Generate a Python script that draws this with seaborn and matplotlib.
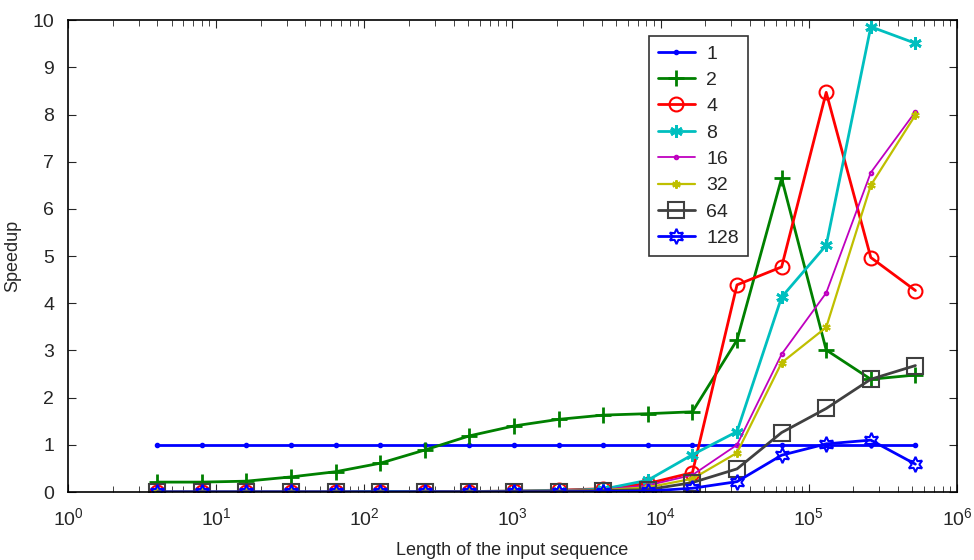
import numpy as np
import pandas as pd
import matplotlib
matplotlib.use("Agg")
import matplotlib.pyplot as plt
import seaborn as sns

sns.set_style("ticks")
plt.rcParams['font.family'] = ['Liberation Sans', 'DejaVu Sans']

lengths = [4, 8, 16, 32, 64, 128, 256, 512, 1024, 2048, 4096, 8192,
           16384, 32768, 65536, 131072, 262144, 524288]

s1 = [1.0] * 18
s2 = [0.21, 0.21, 0.23, 0.32, 0.43, 0.61, 0.89, 1.19, 1.40, 1.54, 1.63, 1.66,
      1.70, 3.22, 6.65, 3.01, 2.39, 2.48]
s4 = [0.0, 0.0, 0.0, 0.0, 0.0, 0.01, 0.01, 0.01, 0.02, 0.04, 0.07, 0.18,
      0.41, 4.39, 4.77, 8.47, 4.97, 4.27]
s8 = [0.0, 0.0, 0.0, 0.0, 0.0, 0.01, 0.01, 0.01, 0.02, 0.03, 0.06, 0.25,
      0.79, 1.28, 4.13, 5.23, 9.86, 9.51]
s16 = [0.0, 0.0, 0.0, 0.0, 0.0, 0.0, 0.01, 0.01, 0.01, 0.03, 0.05, 0.14,
       0.36, 1.00, 2.92, 4.22, 6.77, 8.06]
s32 = [0.0, 0.0, 0.0, 0.0, 0.0, 0.0, 0.0, 0.01, 0.01, 0.02, 0.04, 0.10,
       0.28, 0.83, 2.74, 3.49, 6.50, 7.99]
s64 = [0.0, 0.0, 0.0, 0.0, 0.0, 0.0, 0.0, 0.0, 0.01, 0.01, 0.03, 0.05,
       0.20, 0.49, 1.26, 1.77, 2.39, 2.68]
s128 = [0.0, 0.0, 0.0, 0.0, 0.0, 0.0, 0.0, 0.0, 0.0, 0.0, 0.01, 0.02,
        0.08, 0.22, 0.78, 1.02, 1.10, 0.59]

labels = ['1', '2', '4', '8', '16', '32', '64', '128']
series = [s1, s2, s4, s8, s16, s32, s64, s128]
colors = [(0, 0, 1), (0, 0.5, 0), (1, 0, 0), (0, 0.75, 0.75),
          (0.75, 0, 0.75), (0.75, 0.75, 0), (0.25, 0.25, 0.25), (0, 0, 1)]
markers = ['.', '+', 'o', (6, 2, 0), '.', (6, 2, 0), 's', (6, 1, 0)]
msizes = [5, 11, 10, 9, 5, 6, 11, 11]
mews = [1.5, 2, 1.5, 2, 1.5, 1.5, 1.5, 1.5]
lws = [2, 2, 2, 2, 1.3, 1.6, 2, 2]

fig = plt.figure(figsize=(9.74, 5.6), dpi=100)
ax = fig.add_axes([0.0698, 0.1214, 0.9127, 0.8426])

for lab, ys, c, m, ms, mew, lw in zip(labels, series, colors, markers, msizes, mews, lws):
    df = pd.DataFrame({'x': lengths, 'y': ys})
    sns.lineplot(data=df, x='x', y='y', ax=ax, color=c, marker=m,
                 markersize=ms, markeredgewidth=mew, markerfacecolor='none',
                 markeredgecolor=c, linewidth=lw, label=lab)

ax.set_xscale('log')
ax.set_xlim(1, 1e6)
ax.set_ylim(0, 10)
ax.set_yticks(range(0, 11))
ax.set_xlabel('Length of the input sequence', fontsize=13, labelpad=9)
ax.set_ylabel('Speedup', fontsize=13, labelpad=8)
ax.tick_params(axis='both', which='both', direction='in', top=True, right=True,
               labelsize=14)
ax.tick_params(axis='both', which='major', length=6)
ax.tick_params(axis='x', which='minor', length=4)
ax.tick_params(axis='x', which='major', pad=11)
ax.tick_params(axis='y', which='major', pad=10)
for sp in ax.spines.values():
    sp.set_linewidth(1.2)
    sp.set_color('black')

leg = ax.legend(loc='upper left', bbox_to_anchor=(0.6535, 0.966), fontsize=14,
                frameon=True, fancybox=False, edgecolor='black',
                borderaxespad=0, handlelength=1.9, handletextpad=0.6,
                borderpad=0.45, labelspacing=0.45)
leg.get_frame().set_linewidth(1.2)

fig.savefig('out.png', dpi=100, facecolor='white')
